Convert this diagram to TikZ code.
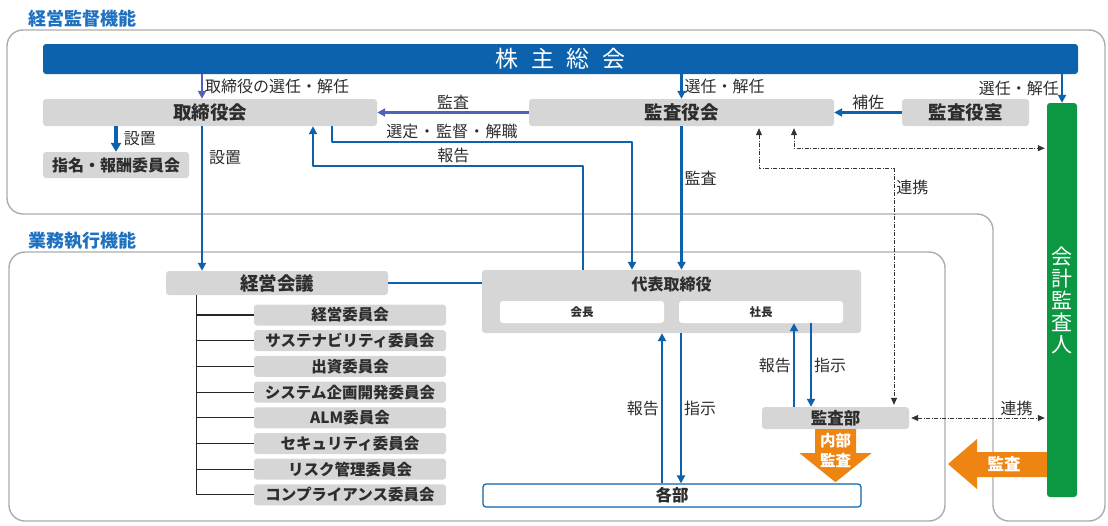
\documentclass[tikz,border=0pt]{standalone}
\usepackage{fontspec}
\setmainfont{Noto Sans CJK JP}
\usetikzlibrary{arrows.meta}
\definecolor{mainblue}{RGB}{12,98,172}
\definecolor{paleblue}{RGB}{78,100,178}
\definecolor{titleblue}{RGB}{30,112,192}
\definecolor{boxgray}{RGB}{214,214,214}
\definecolor{textgray}{RGB}{45,45,45}
\definecolor{framegray}{RGB}{172,172,172}
\definecolor{mygreen}{RGB}{12,152,66}
\definecolor{myorange}{RGB}{238,132,18}
\begin{document}
\begin{tikzpicture}[x=1pt,y=-1pt,line join=round,>={Triangle[length=8pt,width=8pt]},
  panel/.style={draw=framegray,line width=1.4pt,rounded corners=16pt},
  ttl/.style={text=titleblue,inner sep=0pt,font=\bfseries\fontsize{18}{20}\selectfont},
  gbox/.style={fill=boxgray,rounded corners=3pt,inner sep=0pt,text=textgray,font=\bfseries\fontsize{18.5}{20}\selectfont},
  cbox/.style={gbox,minimum width=192pt,minimum height=21pt,font=\bfseries\fontsize{15.5}{18}\selectfont},
  wbox/.style={fill=white,rounded corners=3pt,inner sep=0pt,minimum width=164pt,minimum height=22pt,text=textgray,font=\bfseries\fontsize{11.5}{13}\selectfont},
  lbl/.style={text=textgray,inner sep=2pt,font=\fontsize{16}{18}\selectfont},
  bar/.style={draw=mainblue,line width=2.4pt,->},
  tree/.style={draw=black!85,line width=1.1pt},
  link/.style={draw=black!80,line width=0.8pt,dash pattern=on 4pt off 1.5pt on 1pt off 1.5pt,shorten <=2pt,shorten >=2pt,{Triangle[length=7pt,width=6pt]}-{Triangle[length=7pt,width=6pt]}},
  wtxt/.style={text=white,inner sep=0pt,font=\bfseries\fontsize{15.5}{17}\selectfont}]
\useasboundingbox (0,0) rectangle (1108,525);
\node[ttl] (t1) at (82,19) {経営監督機能};
\node[ttl] (t2) at (82,241) {業務執行機能};
\draw[panel] (500,30) -- (1105,30) -- (1105,521) -- (993,521) -- (993,214) -- (7,214) -- (7,30) -- cycle;
\draw[panel] (9,252) rectangle (945,521);

\node[gbox,fill=mainblue,text=white,minimum width=1035pt,minimum height=30pt,font=\fontsize{23}{26}\selectfont] (sh) at (560.5,59) {株\kern13pt主\kern13pt総\kern13pt会};
\node[gbox,minimum width=334pt,minimum height=27pt] (tb) at (210,112.5) {取締役会};
\node[gbox,minimum width=146pt,minimum height=26pt,font=\bfseries\fontsize{16}{18}\selectfont] (nc) at (116,165) {指名・報酬委員会};
\node[gbox,minimum width=305pt,minimum height=27pt] (ka) at (681.5,112.5) {監査役会};
\node[gbox,minimum width=127pt,minimum height=27pt] (ks) at (965.5,112.5) {監査役室};
\node[gbox,fill=mygreen,text=white,minimum width=30pt,minimum height=394pt,align=center,font=\fontsize{21}{22}\selectfont] (kk) at (1062,300) {会\\計\\監\\査\\人};
\node[gbox,minimum width=222pt,minimum height=24pt] (kg) at (277,283) {経営会議};
\foreach \t [count=\i] in {経営委員会,サステナビリティ委員会,出資委員会,システム企画開発委員会,ALM委員会,セキュリティ委員会,リスク管理委員会,コンプライアンス委員会}
  \node[cbox] (cm\i) at (350,{315+25.7*(\i-1)}) {\t};
\node[gbox,minimum width=379pt,minimum height=63pt] (dt) at (671.5,301.5) {};
\node[lbl,font=\bfseries\fontsize{16}{18}\selectfont] (dtt) at ([yshift=-15pt]dt.north) {代表取締役};
\node[wbox] (kc) at (582,312) {会長};
\node[wbox] (sc) at (761,312) {社長};
\node[gbox,minimum width=147pt,minimum height=22pt,font=\bfseries\fontsize{16.5}{18}\selectfont] (kb) at (835.5,418) {監査部};
\node[gbox,fill=white,draw=mainblue,line width=1.2pt,minimum width=378pt,minimum height=23pt,font=\bfseries\fontsize{16.5}{18}\selectfont] (kbu) at (672,495.5) {各部};

\coordinate (c1) at ([xshift=-8pt]tb.north);
\draw[bar,draw=paleblue] (sh.south -| c1) -- (c1) node[lbl,right,midway] (l1) {取締役の選任・解任};
\draw[bar,line width=3.5pt,-{Triangle[length=9pt,width=10pt]}] (tb.south -| nc) -- (nc.north) node[lbl,right,midway,xshift=4pt] (l2) {設置};
\draw[bar] (c1 |- tb.south) -- (c1 |- kg.north) node[lbl,right,pos=.22,xshift=4pt] (l3) {設置};
\draw[bar] (sh.south -| ka) -- (ka.north) node[lbl,right,midway] (l4) {選任・解任};
\draw[bar] (sh.south -| kk) -- (kk.north) node[lbl,left,midway] (l5) {選任・解任};
\draw[bar] (ks.west) -- (ka.east) node[lbl,above,midway] (l6) {補佐};
\draw[bar,draw=paleblue] (ka.west) -- (tb.east) node[lbl,above,midway] (l7) {監査};
\draw[bar] ([xshift=122pt]tb.south) -- ++(0,16) -| ([xshift=-39.5pt]dt.north) node[lbl,above,pos=.2] (l8) {選定\kern.8pt・\kern.8pt監督\kern.8pt・\kern.8pt解職};
\draw[bar] ([xshift=-88.5pt]dt.north) |- node[lbl,above,pos=.74] (l9) {報告} ([xshift=103pt,yshift=-39.5pt]tb.south) -- ([xshift=103pt]tb.south);
\draw[bar] (ka.south) -- (ka.south |- dt.north) node[lbl,right,pos=.36] (l10) {監査};
\draw[bar,-] (kg.east) -- (kg.east -| dt.west);

\coordinate (c2) at ([xshift=31pt]kg.south west);
\draw[tree] (c2) -- (c2 |- cm8.west);
\foreach \i in {1,...,8}
  \draw[tree] (c2 |- cm\i.west) -- (cm\i.west);

\coordinate (c3) at ([xshift=-9.5pt]dt.south);
\coordinate (c4) at ([xshift=9.5pt]dt.south);
\draw[bar] (kbu.north -| c3) -- (c3) node[lbl,left,midway] (l11) {報告};
\draw[bar] (c4) -- (kbu.north -| c4) node[lbl,right,midway] (l12) {指示};
\coordinate (c5) at ([xshift=33pt]sc.south);
\coordinate (c6) at ([xshift=50pt]sc.south);
\draw[bar] (kb.north -| c5) -- (c5) node[lbl,left,midway] (l13) {報告};
\draw[bar] (c6) -- (kb.north -| c6) node[lbl,right,midway] (l14) {指示};

\fill[myorange] ([xshift=-20.5pt]kb.south) -- ++(0,24) -- ++(-15.5,0) -- ++(36,29) -- ++(36,-29) -- ++(-15.5,0) -- ++(0,-24) -- cycle;
\node[wtxt] (n1) at ([yshift=-11pt]kb.south) {内部};
\node[wtxt] (n2) at ([yshift=-31pt]kb.south) {監査};
\fill[myorange] (kk.west |- 0,452) -- (977,452) -- (977,439) -- (948,464) -- (977,489) -- (977,477) -- (kk.west |- 0,477) -- cycle;
\node[wtxt,font=\bfseries\fontsize{16.5}{18}\selectfont] (n3) at (1004,464) {監査};

\draw[link] ([xshift=77.5pt]ka.south) -- ++(0,42.5) -| ([xshift=58.5pt]kb.north) node[lbl,right,pos=.54] (l15) {連携};
\draw[link] ([xshift=112.5pt]ka.south) -- ++(0,22) coordinate (c7) -- (kk.west |- c7);
\draw[link] (kb.east) -- (kk.west |- kb.east) node[lbl,above,pos=.78] (l16) {連携};
\end{tikzpicture}
\end{document}
